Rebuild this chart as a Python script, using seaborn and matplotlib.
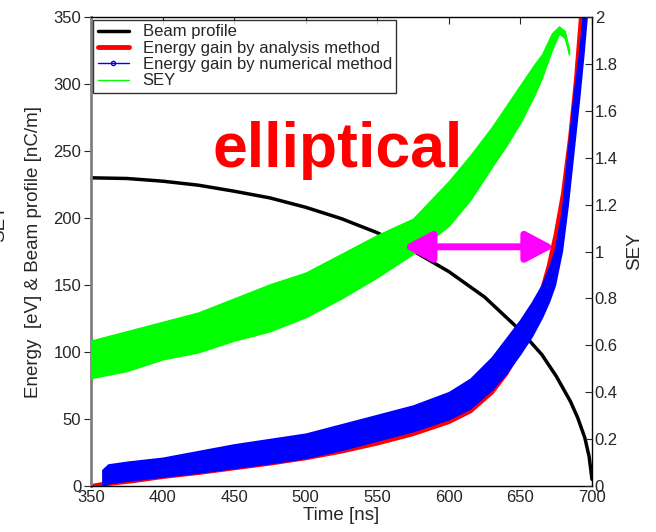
import numpy as np
import pandas as pd
import seaborn as sns
import matplotlib.pyplot as plt
from matplotlib.patches import FancyArrowPatch
from matplotlib.lines import Line2D

# beam profile [nC/m]
t_beam = [350, 375, 400, 425, 450, 475, 500, 525, 550, 575, 600, 625, 650, 665, 675, 685, 690, 695, 698, 700]
beam = [230, 229.5, 227.5, 224.5, 220, 215, 208, 199.5, 189, 175.5, 160, 141, 116, 98, 82, 63, 51, 36, 22, 5]

# energy gain, analysis method [eV]
t_ana = [352, 360, 380, 400, 425, 450, 475, 500, 525, 550, 575, 600, 615, 630, 640, 650, 655, 660,
         665, 670, 675, 680, 685, 689, 692, 694]
e_ana = [0, 1.5, 4, 7, 10, 13.5, 17, 21, 26, 32, 39, 48, 56, 70, 84, 103, 115, 128,
         145, 164, 188, 218, 260, 302, 342, 370]

# energy gain, numerical method (spread of the scattered points) [eV]
t_num = [358, 362, 375, 400, 425, 450, 475, 500, 525, 550, 575, 600, 615, 630, 640, 650, 658, 665,
         670, 674, 679, 683, 687, 691, 694, 697]
e_num_lo = [0, 2, 4, 7, 10, 13.5, 17, 21, 27, 34, 41, 50, 58, 72, 84, 99, 112, 126,
            138, 150, 176, 210, 250, 290, 323, 360]
e_num_hi = [12, 16, 18, 21, 26, 31, 35, 39, 46, 53, 60, 70, 80, 96, 110, 124, 137, 150,
            163, 176, 205, 248, 290, 323, 355, 380]

# SEY (noisy band)
t_sey = [350, 375, 400, 425, 450, 475, 500, 525, 550, 575, 600, 615, 630, 640, 650, 660, 665, 672,
         677, 681, 684]
sey_lo = [0.46, 0.49, 0.54, 0.57, 0.62, 0.66, 0.72, 0.80, 0.89, 0.99, 1.11, 1.22, 1.36, 1.45, 1.55,
          1.67, 1.74, 1.86, 1.93, 1.91, 1.84]
sey_hi = [0.62, 0.66, 0.70, 0.74, 0.80, 0.86, 0.91, 0.99, 1.07, 1.14, 1.30, 1.41, 1.53, 1.62, 1.71,
          1.80, 1.84, 1.93, 1.96, 1.94, 1.86]

sns.set_style("white")
plt.rcParams['font.family'] = ['Liberation Sans', 'DejaVu Sans']

fig = plt.figure(figsize=(6.56, 5.32), dpi=100)
ax = fig.add_axes([0.1387, 0.0865, 0.7637, 0.8815])

df_beam = pd.DataFrame({"t": t_beam, "v": beam})
df_ana = pd.DataFrame({"t": t_ana, "v": e_ana})
sns.lineplot(data=df_beam, x="t", y="v", ax=ax, color="black", lw=2.5, zorder=2)
sns.lineplot(data=df_ana, x="t", y="v", ax=ax, color="red", lw=3.5, zorder=2.2)
ax.fill_between(t_num, e_num_lo, e_num_hi, color="blue", lw=1.2, edgecolor="blue", zorder=2.4)

ax.set_xlim(350, 700)
ax.set_ylim(0, 350)
ax.set_xticks(np.arange(350, 701, 50))
ax.set_yticks(np.arange(0, 351, 50))
ax.set_xlabel("Time [ns]", fontsize=13.5, labelpad=1)
ax.set_ylabel("Energy  [eV] & Beam profile [nC/m]", fontsize=13.5, labelpad=8)
ax.tick_params(axis="x", direction="in", length=5, labelsize=12, top=True, pad=3)
ax.tick_params(axis="y", direction="out", length=5, labelsize=12, pad=2)
for s in ax.spines.values():
    s.set_color("black")
    s.set_linewidth(1)
ax.spines["left"].set_color("#808080")
ax.spines["left"].set_linewidth(2)

ax2 = ax.twinx()
ax2.fill_between(t_sey, sey_lo, sey_hi, color="#00ff00", lw=1, edgecolor="#00ff00")
ax2.set_ylim(0, 2)
ax2.set_yticks(np.arange(0, 2.01, 0.2))
ax2.set_yticklabels(["0", "0.2", "0.4", "0.6", "0.8", "1", "1.2", "1.4", "1.6", "1.8", "2"])
ax2.set_ylabel("SEY", fontsize=13.5, labelpad=6)
ax2.tick_params(axis="y", direction="in", length=5, labelsize=12, pad=2)
for s in ax2.spines.values():
    s.set_visible(False)

arrow = FancyArrowPatch((566, 1.02), (676, 1.02), arrowstyle="<|-|>,head_length=0.85,head_width=0.45",
                        mutation_scale=20, lw=5, color="magenta", transform=ax2.transData)
ax2.add_patch(arrow)

ax2.text(522, 1.43, "elliptical", color="red", fontsize=45, fontweight="bold",
         ha="center", va="center")

handles = [
    Line2D([], [], color="black", lw=2.5),
    Line2D([], [], color="red", lw=3.5),
    Line2D([], [], color="blue", lw=1, marker="o", markersize=3, markerfacecolor="none"),
    Line2D([], [], color="#00ff00", lw=1),
]
labels = ["Beam profile", "Energy gain by analysis method",
          "Energy gain by numerical method", "SEY"]
leg = ax2.legend(handles, labels, loc="upper left", bbox_to_anchor=(0.005, 0.993), fontsize=12,
                 frameon=True, fancybox=False, borderpad=0.25, labelspacing=0.08,
                 handlelength=1.9, handletextpad=0.8, borderaxespad=0)
leg.get_frame().set_edgecolor("black")
leg.get_frame().set_linewidth(1)

fig.text(0.0, 0.58, "SEY", rotation=90, ha="center", va="center", fontsize=13.5)

fig.savefig("out.png", dpi=100)
